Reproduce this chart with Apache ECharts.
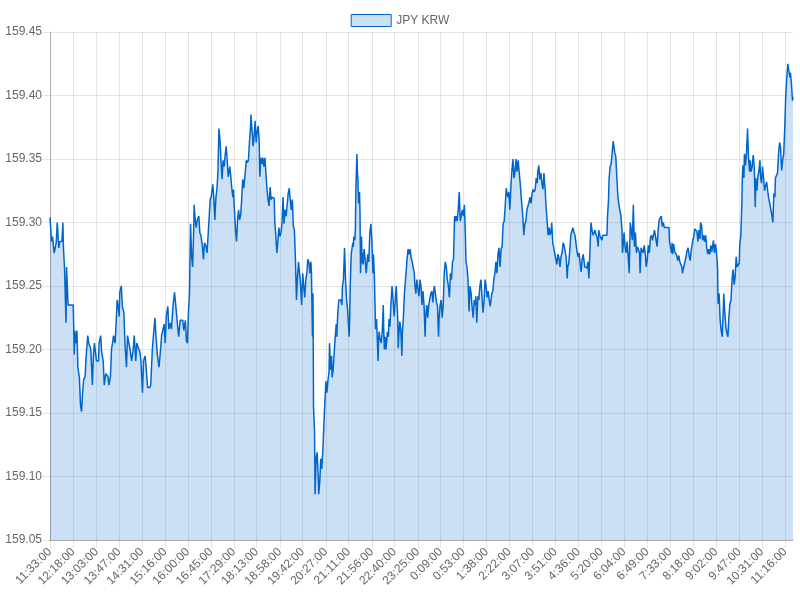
<!DOCTYPE html>
<html>
<head>
<meta charset="utf-8">
<title>JPY KRW</title>
<script src="https://cdn.jsdelivr.net/npm/echarts@6/dist/echarts.min.js"></script>
<style>
  html, body { margin: 0; padding: 0; background: #fff; }
  #chart { width: 800px; height: 600px; }
</style>
</head>
<body>
<div id="chart"></div>
<script>
// series start time and length (one category per minute)
var startHour = 11, startMinute = 33, minuteCount = 1439;

// x-axis labels shown by the reference
var tickLabels = ['11:33:00','12:18:00','13:03:00','13:47:00','14:31:00','15:16:00','16:00:00',
  '16:45:00','17:29:00','18:13:00','18:58:00','19:42:00','20:27:00','21:11:00','21:56:00',
  '22:40:00','23:25:00','0:09:00','0:53:00','1:38:00','2:22:00','3:07:00','3:51:00','4:36:00',
  '5:20:00','6:04:00','6:49:00','7:33:00','8:18:00','9:02:00','9:47:00','10:31:00','11:16:00'];

// minutes elapsed since 11:33:00 for each sampled rate
var sampleMinutes = [
  0,3,5,6,8,12,14,16,17,19,23,25,26,28,30,31,32,34,35,45,47,48,50,52,54,57,59,61,63,65,68,70,
  73,75,79,82,84,86,88,90,94,95,98,100,103,105,108,112,114,117,119,121,123,126,128,130,132,
  134,135,138,140,143,145,148,150,153,155,158,161,163,166,168,171,174,176,179,181,184,186,
  189,193,195,198,201,203,205,208,211,214,216,219,221,223,225,228,230,233,235,238,241,
  244,246,249,252,257,259,262,264,266,268,270,272,274,276,278,279,281,283,285,288,290,292,
  295,297,299,302,304,307,310,312,315,317,319,321,323,325,327,329,331,333,335,337,339,341,
  343,345,348,350,352,354,355,357,359,361,363,365,367,369,371,373,375,378,380,382,384,386,
  388,389,391,393,395,397,399,401,403,405,406,408,410,412,414,416,418,420,422,424,426,428,
  430,434,435,437,439,441,443,445,447,449,451,453,455,457,459,461,463,465,467,469,471,473,
  475,477,479,481,483,
  485,487,489,491,493,495,497,499,501,503,505,506,508,509,510,512,513,515,517,519,520,522,
  524,526,528,530,531,533,534,536,538,540,541,543,545,546,548,550,552,554,555,557,559,563,
  565,566,568,570,571,572,574,576,577,579,580,581,583,585,586,587,588,590,591,592,594,595,
  596,597,599,600,601,603,604,605,606,608,610,612,614,615,617,619,621,623,625,626,628,630,
  632,633,635,636,637,639,641,643,645,646,647,649,650,652,653,655,656,658,660,662,664,666,
  668,670,671,673,674,675,677,679,681,682,684,686,688,689,691,693,695,697,699,701,703,705,
  706,708,710,712,714,715,
  716,718,720,722,724,726,727,729,731,733,735,737,739,741,743,744,746,748,750,752,753,755,
  757,759,761,763,765,767,769,771,773,775,777,779,781,783,784,786,788,790,792,794,796,798,
  800,802,804,805,807,809,811,813,815,817,819,821,823,824,826,828,830,832,834,836,838,840,
  842,844,846,848,850,852,855,857,859,861,863,865,867,869,871,873,875,877,879,881,883,884,
  886,888,890,892,894,896,898,900,902,904,906,908,910,912,913,915,917,919,921,923,925,927,
  929,931,933,935,937,939,941,943,944,946,948,950,952,954,956,957,
  958,960,962,964,966,968,970,971,973,975,977,979,981,983,985,987,989,991,993,995,997,999,
  1001,1002,1004,1006,1008,1010,1012,1014,1016,1018,1020,1022,1024,1026,1028,1030,1032,
  1035,1037,1039,1041,1043,1045,1047,1049,1051,1053,1055,1057,1059,1061,1062,1064,1066,
  1068,1070,1078,1079,1081,1082,1084,1086,1088,1090,1091,1093,1095,1097,1099,1101,1103,
  1105,1107,1108,1110,1111,1113,1115,1117,1119,1121,1123,1125,1127,1129,1131,1133,1135,
  1137,1139,1141,1142,1144,1146,1148,1150,1152,1154,1156,1158,1160,1162,1164,1166,1168,
  1170,1173,1175,1177,1179,1181,1183,1185,1187,1189,1198,1199,
  1201,1203,1204,1205,1207,1209,1211,1213,1215,1217,1219,1221,1223,1224,1226,1229,1231,
  1233,1235,1237,1239,1241,1243,1244,1246,1248,1250,1252,1254,1256,1258,1259,1261,1263,
  1265,1267,1269,1271,1273,1275,1277,1279,1281,1283,1284,1286,1288,1290,1292,1293,1295,
  1297,1299,1301,1303,1304,1306,1308,1310,1312,1314,1316,1318,1320,1322,1324,1326,1328,
  1330,1332,1334,1335,1337,1339,1340,1341,1343,1344,1346,1348,1350,1352,1354,1355,1357,
  1359,1361,1363,1365,1366,1368,1370,1372,1374,1375,1377,1379,1381,1383,1385,1387,1389,
  1391,1393,1395,1397,1399,1401,1403,1404,1406,1408,1410,1412,1414,1416,1418,1420,1422,
  1424,1426,1428,1430,1432,1433,1435,1437,1438
];

// JPY KRW rate read at each sample
var sampleRates = [
  159.304,159.285,159.289,159.289,159.276,159.284,159.300,159.300,159.280,159.285,159.285,
  159.300,159.280,159.265,159.265,159.221,159.265,159.265,159.235,159.235,159.196,159.215,
  159.205,159.215,159.186,159.177,159.156,159.151,159.165,159.176,159.179,159.195,159.211,
  159.205,159.200,159.172,159.195,159.205,159.205,159.191,159.191,159.205,159.211,159.198,
  159.191,159.172,159.181,159.179,159.172,159.179,159.200,159.205,159.211,159.205,159.221,
  159.239,159.234,159.226,159.245,159.250,159.234,159.229,159.205,159.186,159.211,159.211,
  159.200,159.191,159.200,159.211,159.191,159.205,159.205,159.198,159.191,159.166,159.191,
  159.195,159.186,159.170,159.170,159.172,159.200,159.215,159.225,159.211,159.195,159.186,
  159.200,159.211,159.211,159.220,159.205,159.226,159.234,159.216,159.221,159.216,159.234,
  159.245,
  159.232,159.223,159.210,159.223,159.223,159.215,159.223,159.207,159.205,159.230,159.244,
  159.299,159.274,159.265,159.292,159.314,159.302,159.296,159.302,159.305,159.292,159.290,
  159.281,159.271,159.284,159.281,159.276,159.297,159.318,159.320,159.330,159.320,159.302,
  159.319,159.326,159.339,159.374,159.365,159.348,159.334,159.349,159.344,159.353,159.360,
  159.359,159.336,159.344,159.336,159.326,159.320,159.326,159.310,159.294,159.285,159.302,
  159.310,159.302,159.306,159.318,159.334,159.327,159.340,159.349,159.347,159.349,159.363,
  159.374,159.385,159.373,159.360,159.368,159.380,159.363,159.372,159.376,159.363,159.336,
  159.351,159.346,159.351,159.344,159.351,159.338,159.326,159.318,159.313,159.328,159.318,
  159.320,159.319,159.301,159.290,159.276,159.285,159.296,159.289,159.292,159.299,159.320,
  159.299,159.310,159.305,159.305,159.323,159.327,159.318,159.310,159.318,159.297,159.294,
  159.271,159.239,159.257,159.269,159.260,
  159.250,159.235,159.260,159.250,159.241,159.255,159.260,159.271,159.269,159.260,159.269,
  159.260,159.210,159.244,159.155,159.135,159.086,159.114,159.119,159.101,159.086,159.095,
  159.114,159.106,159.120,159.120,159.150,159.150,159.175,159.166,159.176,159.182,159.205,
  159.184,159.195,159.178,159.184,159.197,159.210,159.220,159.210,159.229,159.239,159.239,
  159.235,159.250,159.255,159.280,159.268,159.255,159.239,159.231,159.224,159.210,159.225,
  159.250,159.275,159.275,159.284,159.281,159.289,159.286,159.294,159.326,159.354,159.339,
  159.334,159.315,159.324,159.307,159.260,159.289,159.268,159.276,159.267,159.279,159.271,
  159.260,159.260,159.275,159.269,159.292,159.299,159.286,159.260,159.275,159.255,159.216,
  159.224,159.213,159.191,159.208,159.214,159.208,159.205,159.213,159.235,159.214,159.200,
  159.210,159.200,159.208,159.214,159.210,159.224,159.218,159.237,159.250,159.239,159.226,
  159.237,159.250,159.242,159.224,159.201,159.210,159.222,159.216,159.195,159.213,159.226,
  159.244,159.244,159.260,159.271,159.279,159.275,159.279,159.272,159.269,159.269,159.260,
  159.252,159.244,159.255,159.248,159.242,159.247,
  159.255,159.250,159.235,159.246,159.234,159.210,159.225,159.235,159.225,159.235,159.234,
  159.244,159.246,159.237,159.248,159.250,159.244,159.237,159.234,159.210,159.224,159.235,
  159.239,159.225,159.235,159.260,159.269,159.265,159.255,159.250,159.241,159.260,159.255,
  159.269,159.271,159.305,159.301,159.305,159.301,159.310,159.324,159.301,159.302,159.310,
  159.305,159.314,159.289,159.269,159.265,159.255,159.230,159.250,159.244,159.233,159.225,
  159.239,159.235,159.242,159.221,159.242,159.239,159.250,159.255,159.242,159.229,159.237,
  159.255,159.250,159.241,159.246,159.239,159.234,159.244,159.246,159.255,159.260,159.269,
  159.260,159.275,159.280,159.265,159.279,159.281,159.299,159.301,159.313,159.327,159.324,
  159.320,159.324,159.310,159.328,159.341,159.350,159.335,159.340,159.350,159.340,159.349,
  159.340,159.331,159.320,159.315,159.305,159.290,159.299,159.301,159.310,159.311,159.316,
  159.320,159.315,159.323,159.326,159.324,159.326,159.335,159.331,159.340,159.345,159.334,
  159.339,159.331,159.326,159.339,159.332,
  159.328,159.313,159.302,159.290,159.296,159.290,159.294,159.300,159.284,159.280,159.275,
  159.276,159.267,159.275,159.272,159.265,159.273,159.276,159.284,159.282,159.277,159.273,
  159.256,159.265,159.268,159.278,159.290,159.290,159.296,159.292,159.290,159.289,159.277,
  159.273,159.276,159.268,159.261,159.271,159.275,159.265,159.265,159.264,159.269,159.256,
  159.278,159.300,159.294,159.290,159.292,159.294,159.290,159.288,159.281,159.294,159.290,
  159.288,159.286,159.290,159.290,159.305,159.318,159.334,159.344,159.346,159.355,159.364,
  159.363,159.355,159.352,159.336,159.321,159.314,159.315,159.305,159.294,159.276,159.285,
  159.292,159.281,159.276,159.285,159.285,159.260,159.300,159.294,159.286,159.314,159.281,
  159.292,159.276,159.281,159.280,159.276,159.260,159.280,159.281,159.276,159.282,159.276,
  159.265,159.271,159.282,159.276,159.288,159.290,159.286,159.290,159.294,159.294,159.281,
  159.294,159.302,159.302,159.305,159.297,159.300,159.296,159.296,159.285,
  159.285,159.276,159.284,159.275,159.283,159.277,159.276,159.274,159.270,159.274,159.269,
  159.268,159.265,159.260,159.264,159.265,159.273,159.278,159.280,159.274,159.270,159.278,
  159.283,159.286,159.289,159.295,159.295,159.293,159.285,159.294,159.287,159.300,159.298,
  159.286,159.290,159.285,159.290,159.280,159.275,159.279,159.275,159.282,159.277,159.276,
  159.286,159.276,159.283,159.276,159.264,159.236,159.244,159.223,159.215,159.210,159.231,
  159.244,159.229,159.218,159.213,159.210,159.226,159.236,159.239,159.255,159.263,159.251,
  159.257,159.273,159.265,159.264,159.268,159.283,159.289,159.315,159.336,159.345,159.335,
  159.354,159.345,159.355,159.374,159.350,159.340,159.349,159.340,159.344,159.353,159.344,
  159.312,159.335,159.325,159.336,159.341,159.349,159.337,159.331,159.344,159.335,159.325,
  159.329,159.332,159.325,159.319,159.315,159.314,159.306,159.300,159.323,159.320,159.335,
  159.336,159.339,159.354,159.363,159.359,159.341,159.349,159.354,159.374,159.401,159.414,
  159.425,159.424,159.414,159.418,159.409,159.396,159.399
];

var seriesName = 'JPY KRW';
var lineColor = '#0066cc';
var fillColor = 'rgba(0,102,204,0.2)';
var gridColor = 'rgba(0,0,0,0.1)';
var textColor = '#666';
var fontFamily = '"Helvetica Neue", Helvetica, Arial, "Liberation Sans", sans-serif';

// one category per minute, labelled H:mm:ss
var categories = [];
for (var i = 0; i < minuteCount; i++) {
  var total = startHour * 60 + startMinute + i;
  var h = Math.floor(total / 60) % 24;
  var m = total % 60;
  categories.push(h + ':' + (m < 10 ? '0' + m : m) + ':00');
}

var seriesData = [];
sampleMinutes.forEach(function(min, idx) {
  seriesData.push([min, sampleRates[idx]]);
});

function showTick(index, value) {
  return tickLabels.indexOf(value) !== -1;
}

var myChart = echarts.init(document.getElementById('chart'));

var option = {
  animation: false,
  textStyle: { fontFamily: fontFamily },
  legend: {
    top: 9,
    left: 'center',
    itemWidth: 40,
    itemHeight: 12,
    itemGap: 10,
    icon: 'rect',
    itemStyle: { color: fillColor, borderColor: lineColor, borderWidth: 1 },
    textStyle: { color: textColor, fontSize: 12, fontFamily: fontFamily },
    data: [seriesName]
  },
  grid: { left: 50, right: 7, top: 32, bottom: 60 },
  xAxis: {
    type: 'category',
    boundaryGap: false,
    data: categories,
    axisLine: { show: true, lineStyle: { color: 'rgba(0,0,0,0.25)' } },
    axisTick: { show: true, length: 8, interval: showTick, lineStyle: { color: gridColor } },
    axisLabel: {
      interval: showTick,
      rotate: 45,
      margin: 10,
      color: textColor,
      fontSize: 12,
      fontFamily: fontFamily
    },
    splitLine: { show: true, interval: showTick, lineStyle: { color: gridColor } }
  },
  yAxis: {
    type: 'value',
    min: 159.05,
    max: 159.45,
    interval: 0.05,
    axisLine: { show: true, lineStyle: { color: 'rgba(0,0,0,0.25)' } },
    axisTick: { show: true, length: 8, lineStyle: { color: gridColor } },
    axisLabel: {
      margin: 8,
      color: textColor,
      fontSize: 12,
      fontFamily: fontFamily,
      formatter: function(v) { return v.toFixed(2); }
    },
    splitLine: { show: true, lineStyle: { color: gridColor } }
  },
  series: [{
    name: seriesName,
    type: 'line',
    data: seriesData,
    showSymbol: false,
    symbol: 'none',
    lineStyle: { color: lineColor, width: 1.5 },
    itemStyle: { color: lineColor },
    areaStyle: { color: fillColor, opacity: 1 }
  }]
};

myChart.setOption(option);
</script>
</body>
</html>
